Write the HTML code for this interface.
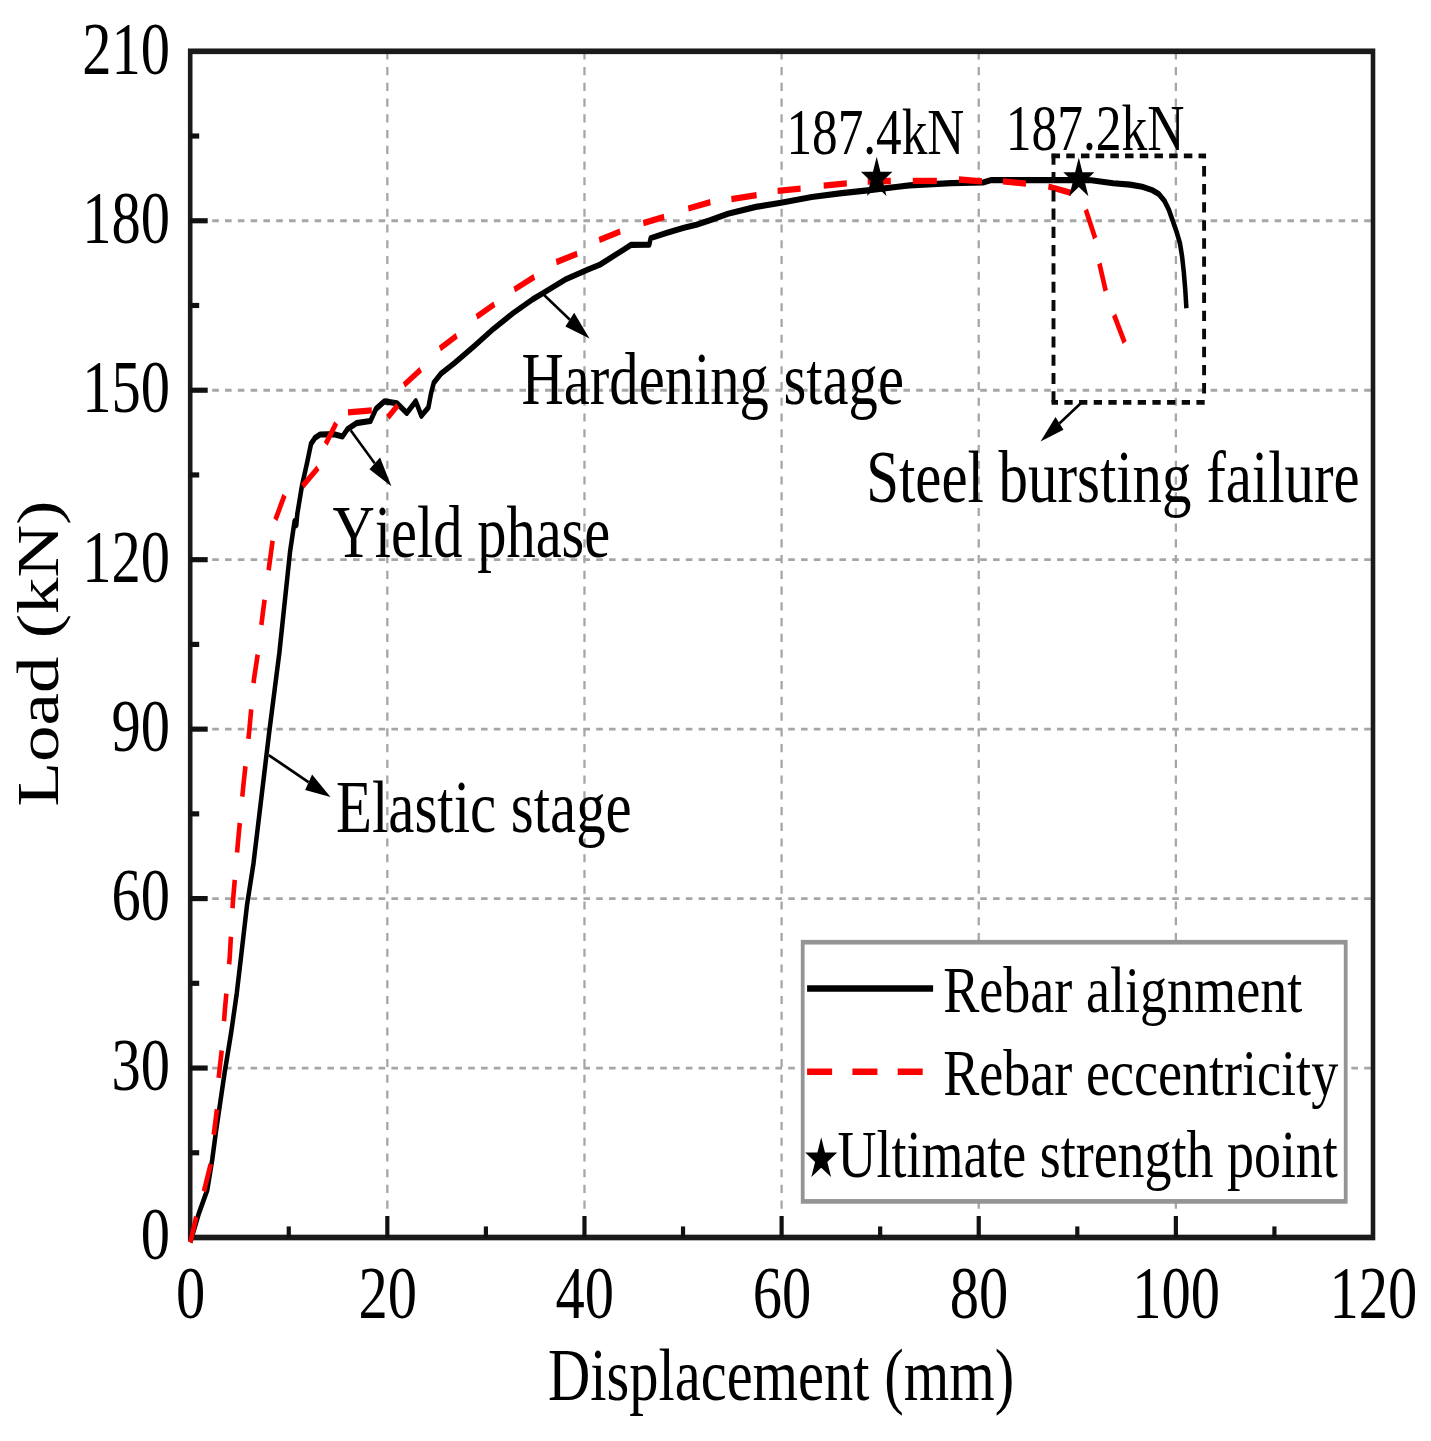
<!DOCTYPE html>
<html lang="en"><head><meta charset="utf-8"><title>Load-displacement curves</title>
<style>html,body{margin:0;padding:0;background:#fff}svg{display:block}text{font-family:"Liberation Serif","Times New Roman",serif;font-size:58.5px;fill:#000;font-kerning:none}</style></head><body>
<svg width="1431" height="1441" viewBox="0 0 1431 1441">
<rect width="1431" height="1441" fill="#fff"/>
<g transform="scale(1,1.23)">
<g stroke="#a6a6a6" stroke-width="2.3" stroke-dasharray="6.6 6.2" fill="none">
<line x1="212.2" y1="868.33" x2="1373" y2="868.33"/>
<line x1="212.2" y1="730.56" x2="1373" y2="730.56"/>
<line x1="212.2" y1="592.79" x2="1373" y2="592.79"/>
<line x1="212.2" y1="455.02" x2="1373" y2="455.02"/>
<line x1="212.2" y1="317.25" x2="1373" y2="317.25"/>
<line x1="212.2" y1="179.48" x2="1373" y2="179.48"/>
<line x1="387.33" y1="41.71" x2="387.33" y2="984.96"/>
<line x1="584.47" y1="41.71" x2="584.47" y2="984.96"/>
<line x1="781.6" y1="41.71" x2="781.6" y2="984.96"/>
<line x1="978.73" y1="41.71" x2="978.73" y2="984.96"/>
<line x1="1175.87" y1="41.71" x2="1175.87" y2="984.96"/>
</g>
<g stroke="#1a1a1a" stroke-width="4.6" fill="none">
<rect x="190.2" y="41.71" width="1182.8" height="964.39"/>
</g>
<g stroke="#111" stroke-width="4.2" fill="none">
<line x1="288.77" y1="1006.1" x2="288.77" y2="997.1"/>
<line x1="387.33" y1="1006.1" x2="387.33" y2="988.6"/>
<line x1="485.9" y1="1006.1" x2="485.9" y2="997.1"/>
<line x1="584.47" y1="1006.1" x2="584.47" y2="988.6"/>
<line x1="683.03" y1="1006.1" x2="683.03" y2="997.1"/>
<line x1="781.6" y1="1006.1" x2="781.6" y2="988.6"/>
<line x1="880.17" y1="1006.1" x2="880.17" y2="997.1"/>
<line x1="978.73" y1="1006.1" x2="978.73" y2="988.6"/>
<line x1="1077.3" y1="1006.1" x2="1077.3" y2="997.1"/>
<line x1="1175.87" y1="1006.1" x2="1175.87" y2="988.6"/>
<line x1="1274.43" y1="1006.1" x2="1274.43" y2="997.1"/>
<line x1="190.2" y1="937.21" x2="199.2" y2="937.21"/>
<line x1="190.2" y1="868.33" x2="207.7" y2="868.33"/>
<line x1="190.2" y1="799.44" x2="199.2" y2="799.44"/>
<line x1="190.2" y1="730.56" x2="207.7" y2="730.56"/>
<line x1="190.2" y1="661.67" x2="199.2" y2="661.67"/>
<line x1="190.2" y1="592.79" x2="207.7" y2="592.79"/>
<line x1="190.2" y1="523.9" x2="199.2" y2="523.9"/>
<line x1="190.2" y1="455.02" x2="207.7" y2="455.02"/>
<line x1="190.2" y1="386.13" x2="199.2" y2="386.13"/>
<line x1="190.2" y1="317.25" x2="207.7" y2="317.25"/>
<line x1="190.2" y1="248.36" x2="199.2" y2="248.36"/>
<line x1="190.2" y1="179.48" x2="207.7" y2="179.48"/>
<line x1="190.2" y1="110.59" x2="199.2" y2="110.59"/>
</g>
<g transform="scale(1,1.11)">
<path d="M190.2 909.93 L198.7 889.04 L207.3 871.47 L212.2 849.56 L216 828.68 L220.4 806.76 L224.8 784.78 L228.5 768.31 L231.4 755.15 L236.8 727.35 L241.4 698.53 L247 663.01 L253.5 632.35 L269.3 535.81 L279.4 477.94 L290 404.41 L294.6 381.62 L296.3 384.56 L297.3 376.47 L301.9 356.03 L307.5 337.5 L311 325.15 L315.2 320.59 L320.1 318.24 L334.1 318.01 L342.5 319.71 L347.4 314.41 L356.4 309.93 L370.4 308.38 L376 299.49 L384.4 293.97 L397 295.37 L406.8 302.43 L415.8 293.97 L421.4 304.49 L428.4 298.46 L431 288.24 L433.8 280.37 L440.7 273.9 L454.4 266.03 L473.9 253.75 L493.5 240.81 L513.1 229.34 L532.6 219.26 L542.4 214.93 L565 204.85 L587.7 197.5 L600 193.82 L623.5 182.87 L631 179.34 L649.3 179.19 L650.7 174.41 L667.1 170.51 L683.9 166.84 L696.4 164.56 L710 161.32 L728 156.54 L755.9 151.54 L781.1 148.53 L811.8 144.34 L839.8 141.62 L867.7 139.41 L900 136.62 L909.6 135.74 L951.6 134.12 L983 133.68 L991.4 131.91 L1064.8 131.91 L1091.1 132.06 L1113.3 134.26 L1130 135.22 L1142.2 136.84 L1152.2 139.26 L1158.8 142.13 L1164.4 147.06 L1168.8 153.53 L1172.7 161.69 L1176.6 169.85 L1179.9 178.01 L1182.1 187.87 L1183.8 199.26 L1185.2 211.54 L1186.4 225.74" fill="none" stroke="#000" stroke-width="4.5" stroke-linejoin="round"/>
<g fill="none" stroke="#ff0000" stroke-width="4.6" stroke-linejoin="round">
<path d="M190.4 909.93 L196.24 891.18"/>
<path d="M203.84 872.72 L203.9 872.57 L210.6 852.87 L210.63 852.65"/>
<path d="M213.75 831.1 L216.96 812.57"/>
<path d="M218.62 789.49 L221.72 769.41"/>
<path d="M224.02 747.87 L225 738.6 L226.37 727.79"/>
<path d="M229.1 706.25 L229.7 701.47 L230.91 686.03"/>
<path d="M232.54 665.22 L232.9 660.59 L234.78 644.41"/>
<path d="M237.1 624.41 L238 616.69 L239.8 602.79"/>
<path d="M242.3 583.53 L243.4 575 L245.44 561.18"/>
<path d="M248.4 541.18 L249.2 535.74 L251.2 519.56"/>
<path d="M253.59 500.29 L253.9 497.79 L257.68 479.49"/>
<path d="M261.37 457.72 L262.9 448.53 L264.61 439.26"/>
<path d="M268.61 417.65 L270.6 406.91 L272.58 396.1"/>
<path d="M275.4 380.66 L284.5 362.72"/>
<path d="M302.6 356.03 L318 342.65"/>
<path d="M325.7 325.15 L336.2 309.78"/>
<path d="M348 302.06 L371.8 300.51"/>
<path d="M387.9 305.66 L397.7 296.91"/>
<path d="M404 281.99 L420.7 270.74"/>
<path d="M439.9 255.22 L456.7 245.96"/>
<path d="M476.6 232.06 L494.4 222.79"/>
<path d="M514.3 212.06 L534.3 202.79"/>
<path d="M556.3 191.99 L577.2 185.81"/>
<path d="M599.2 175.81 L620.2 169.63"/>
<path d="M643.3 163.46 L664.2 158.82"/>
<path d="M688.3 152.72 L710.4 148.09"/>
<path d="M731.4 145.88 L756.6 142.87"/>
<path d="M777.6 139.78 L800.6 138.24"/>
<path d="M823.7 135.88 L846.8 134.34"/>
<path d="M867.7 132.94 L890.8 132.57"/>
<path d="M912.8 132.5 L936.9 132.5"/>
<path d="M958.9 131.47 L982 132.79"/>
<path d="M1003 132.87 L1026 134.41"/>
<path d="M1048.4 136.62 L1071 141.32"/>
<path d="M1085.8 153.68 L1095.2 174.49"/>
<path d="M1099.4 193.01 L1105.7 213.01"/>
<path d="M1114.1 230.74 L1124.6 250.81"/>
</g>
</g>
<text transform="translate(170,60) scale(1,1.04)" text-anchor="end">210</text>
<text transform="translate(170,197.64) scale(1,1.04)" text-anchor="end">180</text>
<text transform="translate(170,335.28) scale(1,1.04)" text-anchor="end">150</text>
<text transform="translate(170,472.93) scale(1,1.04)" text-anchor="end">120</text>
<text transform="translate(170,610.57) scale(1,1.04)" text-anchor="end">90</text>
<text transform="translate(170,748.21) scale(1,1.04)" text-anchor="end">60</text>
<text transform="translate(170,885.85) scale(1,1.04)" text-anchor="end">30</text>
<text transform="translate(170,1023.5) scale(1,1.04)" text-anchor="end">0</text>
<text transform="translate(190.5,1071.71) scale(1,1.04)" text-anchor="middle">0</text>
<text transform="translate(387.63,1071.71) scale(1,1.04)" text-anchor="middle">20</text>
<text transform="translate(584.77,1071.71) scale(1,1.04)" text-anchor="middle">40</text>
<text transform="translate(781.9,1071.71) scale(1,1.04)" text-anchor="middle">60</text>
<text transform="translate(979.03,1071.71) scale(1,1.04)" text-anchor="middle">80</text>
<text transform="translate(1176.17,1071.71) scale(1,1.04)" text-anchor="middle">100</text>
<text transform="translate(1373.3,1071.71) scale(1,1.04)" text-anchor="middle">120</text>
<text transform="translate(548,1138.05) scale(1,1.03)">Displacement (mm)</text>
<text transform="translate(57.6,531.3) rotate(-90) scale(1.015,1)" text-anchor="middle">Load (kN)</text>
<text transform="translate(336,676.02) scale(1.006,1.03)">Elastic stage</text>
<text transform="translate(332.6,452.6) scale(1,1.03)">Yield phase</text>
<text transform="translate(521.5,328.37) scale(1.002,1.03)">Hardening stage</text>
<text transform="translate(786.4,124.88) scale(0.876,0.925)">187.4kN</text>
<text transform="translate(1005.8,121.63) scale(0.88,0.925)">187.2kN</text>
<text transform="translate(866.2,408.05) scale(1.006,1.03)">Steel bursting failure</text>
<line x1="268.9" y1="613.98" x2="308.62" y2="635.95" stroke="#000" stroke-width="2.4"/>
<polygon points="330.5,648.05 305.16,642.21 312.08,629.69" fill="#000"/>
<line x1="350.8" y1="349.92" x2="374.74" y2="376.72" stroke="#000" stroke-width="2.4"/>
<polygon points="391.4,395.37 369.41,381.49 380.08,371.96" fill="#000"/>
<line x1="541.6" y1="237.89" x2="569.78" y2="259.84" stroke="#000" stroke-width="2.4"/>
<polygon points="589.5,275.2 565.38,265.48 574.17,254.2" fill="#000"/>
<line x1="1081.7" y1="327.07" x2="1059.5" y2="344.2" stroke="#000" stroke-width="2.4"/>
<polygon points="1040.5,358.86 1055.53,339.05 1063.47,349.35" fill="#000"/>
<g fill="none" stroke="#0a0a0a" stroke-width="3.9">
<line x1="1051.55" y1="126.75" x2="1206.05" y2="126.75" stroke-dasharray="8.5 6.2"/>
<line x1="1204.1" y1="126.75" x2="1204.1" y2="326.07" stroke-dasharray="8.5 6.2" stroke-dashoffset="6.5"/>
<line x1="1204.7" y1="327.07" x2="1051.55" y2="327.07" stroke-dasharray="8.3 6.37"/>
<line x1="1053.5" y1="327.07" x2="1053.5" y2="124.8" stroke-dasharray="9 5.85"/>
</g>
<polygon points="876.7,127.43 880.43,139.65 892.49,139.65 882.73,147.21 886.46,159.44 876.7,151.88 866.94,159.44 870.67,147.21 860.91,139.65 872.97,139.65" fill="#000"/>
<polygon points="1078.8,128.07 1082.46,140.08 1094.3,140.08 1084.72,147.5 1088.38,159.5 1078.8,152.08 1069.22,159.5 1072.88,147.5 1063.3,140.08 1075.14,140.08" fill="#000"/>
<rect x="802.7" y="766.02" width="543" height="210.73" fill="#fff" stroke="#949494" stroke-width="3.8"/>
<line x1="807.1" y1="803.66" x2="933.1" y2="803.66" stroke="#000" stroke-width="5.2"/>
<line x1="807.1" y1="871.38" x2="923.4" y2="871.38" stroke="#ff0000" stroke-width="5.2" stroke-dasharray="25 20.3"/>
<polygon points="821.2,924.61 824.97,936.99 837.18,936.99 827.3,944.63 831.07,957.01 821.2,949.36 811.33,957.01 815.1,944.63 805.22,936.99 817.43,936.99" fill="#000"/>
<text transform="translate(943.2,822.44) scale(0.925,0.925)">Rebar alignment</text>
<text transform="translate(943.2,890) scale(0.925,0.925)">Rebar eccentricity</text>
<text transform="translate(837.6,957.24) scale(0.922,0.94)">Ultimate strength point</text>
</g></svg></body></html>
